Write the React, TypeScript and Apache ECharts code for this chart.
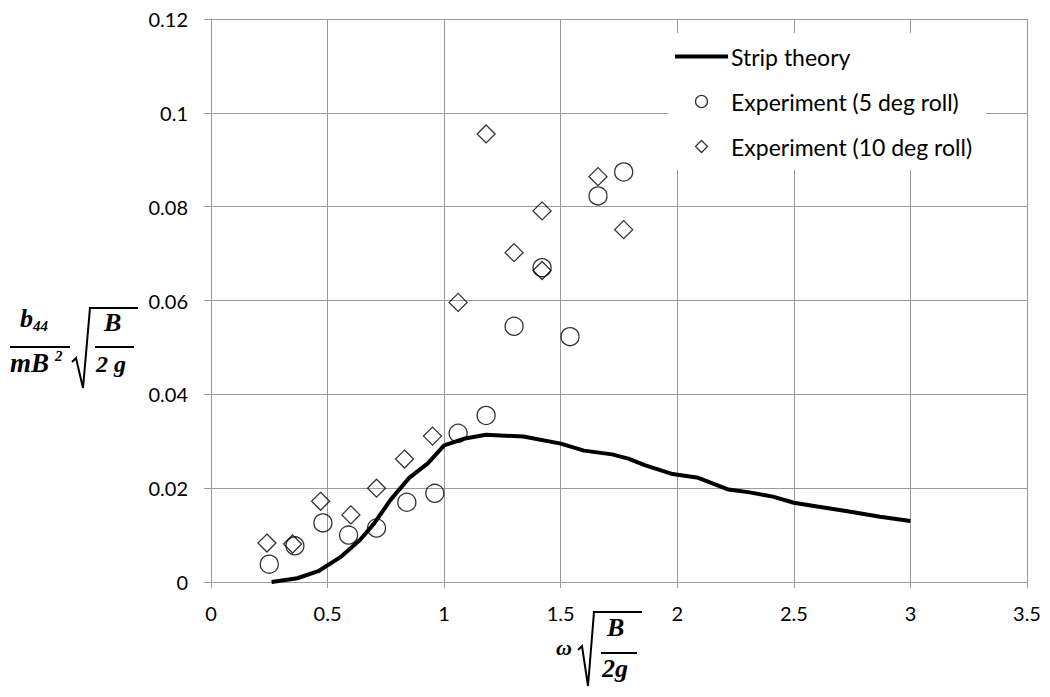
import React, { useEffect, useRef } from "react";
import * as echarts from "echarts";

// Strip theory curve [omega*sqrt(B/2g), b44/(mB^2) sqrt(B/2g)]
const stripX = [0.26, 0.37, 0.46, 0.555, 0.64, 0.7, 0.77, 0.85, 0.93, 1.0, 1.09, 1.18, 1.34, 1.5, 1.6, 1.72, 1.79, 1.86, 1.98, 2.09, 2.22, 2.31, 2.41, 2.5, 2.6, 2.73, 2.87, 3.0];
const stripY = [0, 0.0008, 0.0023, 0.0053, 0.009, 0.0125, 0.0175, 0.0222, 0.0253, 0.0291, 0.0306, 0.0314, 0.031, 0.0295, 0.028, 0.0272, 0.0263, 0.0249, 0.023, 0.0222, 0.0197, 0.0191, 0.0182, 0.0169, 0.0161, 0.0151, 0.0139, 0.013];

// Experiment (5 deg roll)
const exp5X = [0.25, 0.36, 0.48, 0.59, 0.71, 0.84, 0.96, 1.06, 1.18, 1.3, 1.42, 1.54, 1.66, 1.77];
const exp5Y = [0.0038, 0.0077, 0.0126, 0.01, 0.0115, 0.017, 0.0189, 0.0317, 0.0355, 0.0545, 0.067, 0.0523, 0.0823, 0.0874];

// Experiment (10 deg roll)
const exp10X = [0.24, 0.35, 0.47, 0.6, 0.71, 0.83, 0.95, 1.06, 1.18, 1.3, 1.42, 1.42, 1.66, 1.77];
const exp10Y = [0.0083, 0.0081, 0.0172, 0.0143, 0.02, 0.0262, 0.0311, 0.0596, 0.0955, 0.0702, 0.0791, 0.0664, 0.0864, 0.0751];

const seriesNames = ["Strip theory", "Experiment (5 deg roll)", "Experiment (10 deg roll)"];

const FONT = "Lato";
const MATH = "Liberation Serif";
const GRID = "#9a9a9a";

export default function App() {
  const ref = useRef<HTMLDivElement>(null);
  useEffect(() => {
    if (!ref.current) return;
    const chart = echarts.init(ref.current, null, { renderer: "svg" });
    const zip = (xs: number[], ys: number[]) => xs.map((x, i) => [x, ys[i]]);
    const mt = (text: string, x: number, y: number, size: number, bold = true, italic = true) => ({
      type: "text",
      x,
      y,
      style: {
        text,
        fontFamily: MATH,
        fontSize: size,
        fontWeight: bold ? "bold" : "normal",
        fontStyle: italic ? "italic" : "normal",
        fill: "#000",
        textVerticalAlign: "top",
      },
    });
    const ln = (x1: number, y1: number, x2: number, y2: number) => ({
      type: "line",
      shape: { x1, y1, x2, y2 },
      style: { stroke: "#000", lineWidth: 2 },
    });
    const rad = (pts: number[][]) => ({
      type: "polyline",
      shape: { points: pts },
      style: { stroke: "#000", lineWidth: 2, fill: null },
    });
    const hollow = { color: "rgba(255,255,255,0)", borderColor: "#000", borderWidth: 1.3 };
    chart.setOption({
      animation: false,
      backgroundColor: "#fff",
      grid: { left: 211, right: 23, top: 19, bottom: 115 },
      xAxis: {
        type: "value",
        min: 0,
        max: 3.5,
        interval: 0.5,
        axisLine: { show: true, lineStyle: { color: GRID, width: 1 } },
        axisTick: { show: true, length: 6, lineStyle: { color: GRID } },
        splitLine: { show: true, lineStyle: { color: GRID, width: 1 } },
        axisLabel: { fontFamily: FONT, fontSize: 20, color: "#000", margin: 21 },
      },
      yAxis: {
        type: "value",
        min: 0,
        max: 0.12,
        interval: 0.02,
        axisLine: { show: true, lineStyle: { color: GRID, width: 1 } },
        axisTick: { show: true, length: 7, lineStyle: { color: GRID } },
        splitLine: { show: true, lineStyle: { color: GRID, width: 1 } },
        axisLabel: { fontFamily: FONT, fontSize: 20, color: "#000", margin: 23 },
      },
      legend: {
        orient: "vertical",
        left: 668,
        top: 33,
        backgroundColor: "#fff",
        padding: [12, 14, 12, 7],
        itemGap: 22,
        itemWidth: 53,
        itemHeight: 12,
        symbolKeepAspect: true,
        textStyle: { fontFamily: FONT, fontSize: 23, color: "#000", lineHeight: 23, padding: [0, 0, 0, -2] },
        data: [
          { name: seriesNames[0], icon: "path://M0,0L53,0L53,4L0,4Z", itemStyle: { color: "#000", borderWidth: 0 } },
          { name: seriesNames[1], icon: "circle", itemStyle: hollow },
          { name: seriesNames[2], icon: "path://M6,0L12,6L6,12L0,6Z", itemStyle: hollow },
        ],
      },
      series: [
        {
          name: seriesNames[0],
          type: "line",
          data: zip(stripX, stripY),
          symbol: "none",
          showSymbol: false,
          smooth: false,
          lineStyle: { color: "#000", width: 4 },
          itemStyle: { color: "#000" },
          z: 2,
        },
        {
          name: seriesNames[1],
          type: "scatter",
          data: zip(exp5X, exp5Y),
          symbol: "circle",
          symbolSize: 18,
          itemStyle: hollow,
          z: 3,
        },
        {
          name: seriesNames[2],
          type: "scatter",
          data: zip(exp10X, exp10Y),
          symbol: "diamond",
          symbolSize: 18,
          itemStyle: hollow,
          z: 4,
        },
      ],
      graphic: [
        // Y-axis title: b44/(mB^2) * sqrt(B/2g)
        mt("b", 20, 305, 26),
        mt("44", 33, 318, 15),
        ln(10, 347, 70, 347),
        mt("mB", 10, 349, 27),
        mt("2", 55, 348, 15),
        rad([[72, 362], [76, 358], [83, 388], [90, 308], [138, 308]]),
        mt("B", 104, 309, 26),
        ln(95, 347, 134, 347),
        mt("2 g", 96, 352, 24),
        // X-axis title: omega * sqrt(B/2g)
        mt("ω", 556, 636, 22),
        rad([[578, 650], [582, 646], [588, 686], [594, 612], [642, 612]]),
        mt("B", 607, 614, 26),
        ln(601, 653, 637, 653),
        mt("2g", 602, 655, 26),
      ],
    });
    return () => chart.dispose();
  }, []);
  return (
    <div
      ref={ref}
      style={{ position: "fixed", left: 0, top: 0, width: 1050, height: 697, background: "#fff" }}
    />
  );
}
